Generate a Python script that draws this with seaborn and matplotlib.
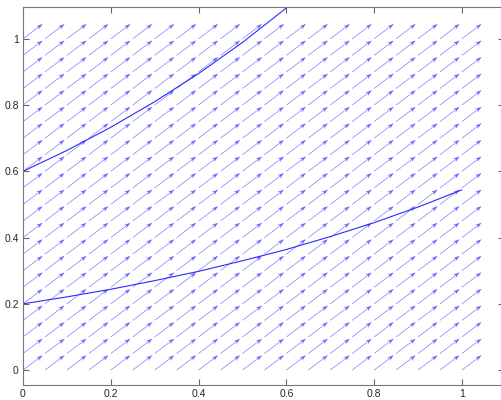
import numpy as np
import pandas as pd
import matplotlib
matplotlib.use("Agg")
import matplotlib.pyplot as plt
import seaborn as sns

# direction field grid (same values on both axes) and field components
grid = [0.00, 0.05, 0.10, 0.15, 0.20, 0.25, 0.30, 0.35, 0.40, 0.45, 0.50,
        0.55, 0.60, 0.65, 0.70, 0.75, 0.80, 0.85, 0.90, 0.95, 1.00]
field_u = 1.0
field_v = 1.0

# solution curves
upper_x = [0.0, 0.1, 0.2, 0.3, 0.4, 0.5, 0.6]
upper_y = [0.600, 0.663, 0.733, 0.810, 0.895, 0.989, 1.093]
lower_x = [0.0, 0.1, 0.2, 0.3, 0.4, 0.5, 0.6, 0.7, 0.8, 0.9, 1.0]
lower_y = [0.200, 0.221, 0.244, 0.270, 0.298, 0.330, 0.364, 0.403, 0.445, 0.492, 0.544]

x_ticks = [0, 0.2, 0.4, 0.6, 0.8, 1]
y_ticks = [0, 0.2, 0.4, 0.6, 0.8, 1]
tick_labels = ["0", "0.2", "0.4", "0.6", "0.8", "1"]

sns.set_style("ticks")
plt.rcParams["font.family"] = ["Liberation Sans", "DejaVu Sans"]

fig = plt.figure(figsize=(5.02, 4.0), dpi=100)
ax = fig.add_axes([23 / 502, 15 / 400, 481 / 502, 378 / 400])

X, Y = np.meshgrid(grid, grid)
U = np.full_like(X, field_u)
V = np.full_like(Y, field_v)
arrow_len = 0.045
ax.quiver(X, Y, U * arrow_len, V * arrow_len, angles="xy", scale_units="xy", scale=1,
          color="#4646ff", units="dots", width=0.6, headwidth=7, headlength=11,
          headaxislength=8, alpha=0.8)

curves = pd.DataFrame({
    "x": upper_x + lower_x,
    "y": upper_y + lower_y,
    "curve": ["upper"] * len(upper_x) + ["lower"] * len(lower_x),
})
sns.lineplot(data=curves, x="x", y="y", units="curve", estimator=None, sort=False,
             color="#2a2aff", linewidth=0.8, ax=ax, legend=False)

ax.set_xlim(0, 1.096)
ax.set_ylim(-0.045, 1.096)
ax.set_xticks(x_ticks)
ax.set_xticklabels(tick_labels)
ax.set_yticks(y_ticks)
ax.set_yticklabels(tick_labels)
ax.set_xlabel("")
ax.set_ylabel("")
ax.tick_params(direction="in", length=4, width=0.8, color="#666666",
               labelsize=7.5, top=True, right=True, pad=3)
ax.tick_params(axis="x", pad=3)
for sp in ax.spines.values():
    sp.set_color("#777777")
    sp.set_linewidth(0.8)

fig.savefig("out.png", dpi=100)
